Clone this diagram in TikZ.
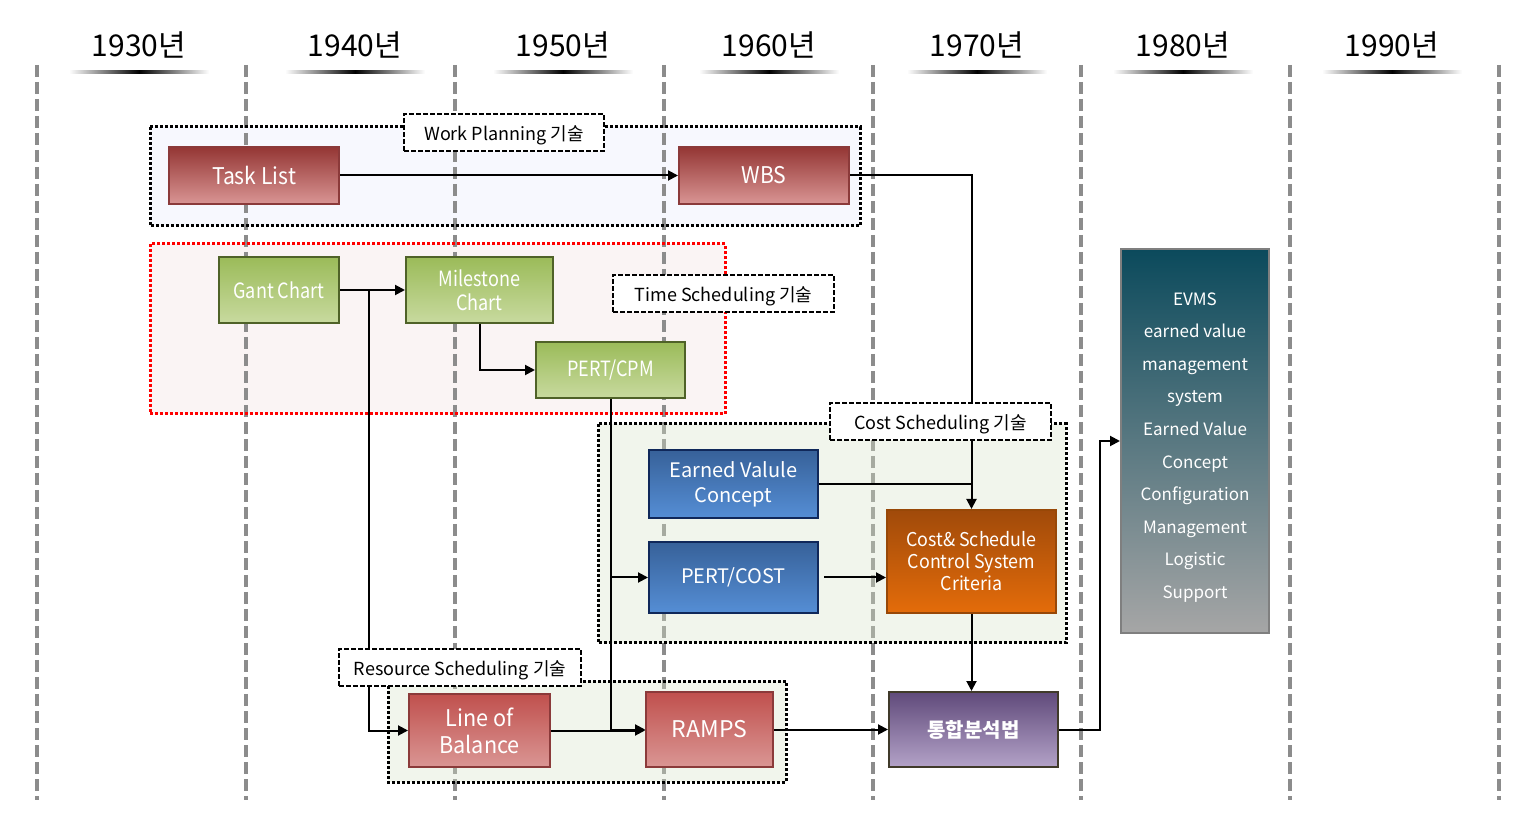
\documentclass[tikz,border=0pt]{standalone}
\usepackage{fontspec}
\setmainfont{Noto Sans CJK KR}
\usetikzlibrary{arrows.meta}
\definecolor{vgray}{HTML}{8C8C8C}
\definecolor{rtop}{HTML}{943634}
\definecolor{rbot}{HTML}{D99594}
\definecolor{rbord}{HTML}{8B3A3A}
\definecolor{r2top}{HTML}{C0504D}
\definecolor{r2bot}{HTML}{DA9694}
\definecolor{gtop}{HTML}{9BBB59}
\definecolor{gbot}{HTML}{C8DA9F}
\definecolor{gbord}{HTML}{4F6228}
\definecolor{btop}{HTML}{376199}
\definecolor{bbot}{HTML}{558ED5}
\definecolor{bbord}{HTML}{10285A}
\definecolor{otop}{HTML}{A04A0A}
\definecolor{obot}{HTML}{E46C0A}
\definecolor{obord}{HTML}{984807}
\definecolor{ptop}{HTML}{604A7B}
\definecolor{pbot}{HTML}{B3A2C7}
\definecolor{pbord}{HTML}{403A2A}
\definecolor{etop}{HTML}{0B4A5C}
\definecolor{ebot}{HTML}{A6A6A6}
\definecolor{ebord}{HTML}{7F7F7F}
\definecolor{wpfill}{HTML}{F7F8FE}
\definecolor{tsfill}{HTML}{FAF4F4}
\definecolor{csfill}{HTML}{D8E2C8}
\begin{document}
\begin{tikzpicture}[x=0.5pt,y=-0.5pt,
  vline/.style={draw=vgray, line width=2pt, dash pattern=on 6pt off 2.5pt},
  year/.style={font=\fontsize{15}{18}\selectfont, text=black},
  sz/.style 2 args={minimum width=#1*0.5pt, minimum height=#2*0.5pt},
  box/.style={draw, line width=1pt, inner sep=0pt, align=center, text=white},
  redbox/.style={box, top color=rtop, bottom color=rbot, draw=rbord},
  red2box/.style={box, top color=r2top, bottom color=r2bot, draw=rbord},
  greenbox/.style={box, top color=gtop, bottom color=gbot, draw=gbord, font=\addfontfeatures{FakeStretch=0.86}\fontsize{10.5}{12}\selectfont},
  bluebox/.style={box, top color=btop, bottom color=bbot, draw=bbord, font=\fontsize{10}{12.5}\selectfont},
  orangebox/.style={box, top color=otop, bottom color=obot, draw=obord, font=\addfontfeatures{FakeStretch=0.94}\fontsize{9.5}{11}\selectfont},
  purplebox/.style={box, top color=ptop, bottom color=pbot, draw=pbord, font=\bfseries\fontsize{10}{12}\selectfont},
  evmsbox/.style={box, top color=etop, bottom color=ebot, draw=ebord},
  lbl/.style={draw=black, fill=white, line width=0.9pt, dash pattern=on 2.5pt off 1pt, inner sep=0pt, text height=10pt, text depth=1.8pt, font=\fontsize{9}{11}\selectfont},
  region/.style={line width=1.5pt, dash pattern=on 1.5pt off 1pt},
  conn/.style={line width=1pt, draw=black},
  arr/.style={conn, -{Triangle[length=5pt,width=5pt]}}
]
\useasboundingbox (0,0) rectangle (1538,828);

% opaque region fills (lines stay visible on top)
\fill[wpfill] (150,127) rectangle (860,226);
\fill[tsfill] (150,244) rectangle (725,414);

% vertical time lines
\foreach \x in {37,246,455,664,873,1081,1290,1499}
  \draw[vline] (\x,65) -- (\x,800);

% year labels
\foreach \x/\t [count=\i] in {139/1930,355/1940,563/1950,769/1960,977/1970,1183/1980,1392/1990}{
  \node[year] (y\i) at (\x,45) {\t 년};
  \shade[left color=white, right color=white, middle color=black] (\x-70,70.5) rectangle (\x+70,73.5);
}

% translucent region fills
\fill[csfill, fill opacity=0.35] (598,424) rectangle (1066,643);
\fill[csfill, fill opacity=0.35] (388,681) rectangle (786,782);

% region borders
\draw[region] (150,127) rectangle (860,226);
\draw[region, draw=red] (150,244) rectangle (725,414);
\draw[region] (598,424) rectangle (1066,643);
\draw[region] (388,681) rectangle (786,782);

% boxes
\node[redbox, sz={170}{57}, font=\addfontfeatures{FakeStretch=0.92}\fontsize{11.5}{13}\selectfont] (tl) at (254,175.5) {Task List};
\node[redbox, sz={170}{57}, font=\addfontfeatures{FakeStretch=0.92}\fontsize{11.5}{13}\selectfont] (wbs) at (764,175.5) {WBS};
\node[greenbox, sz={120}{66}] (gant) at (279,290) {Gant Chart};
\node[greenbox, sz={147}{66}] (ms) at (479.5,290) {Milestone\\Chart};
\node[greenbox, sz={149}{56}] (pc) at (610.5,370) {PERT/CPM};
\node[bluebox, sz={169}{68}] (evc) at (733.5,484) {Earned Valule\\Concept};
\node[bluebox, sz={169}{71}] (pcost) at (733.5,577.5) {PERT/COST};
\node[orangebox, sz={169}{103}] (cs) at (971.5,561.5) {Cost\& Schedule\\Control System\\Criteria};
\node[red2box, sz={141}{73}, font=\addfontfeatures{FakeStretch=0.94}\fontsize{11.5}{13.5}\selectfont] (lob) at (479.5,730.5) {Line of\\Balance};
\node[red2box, sz={127}{75}, font=\fontsize{11.5}{13.5}\selectfont] (ramps) at (709.5,729.5) {RAMPS};
\node[purplebox, sz={169}{75}] (th) at (973.5,729.5) {통합분석법};
\node[evmsbox, sz={148}{384}] (evms) at (1195,441) {};
\node[text=white, align=center, font=\fontsize{8.5}{16.3}\selectfont] (evmst) at (1195,447.5) {EVMS\\earned value\\management\\system\\Earned Value\\Concept\\Configuration\\Management\\Logistic\\Support};

% connectors
\coordinate (j1) at (369,290);
\coordinate (j2) at (pc.south |- pcost.west);
\coordinate (j3) at (1100,729.5);
\draw[arr] (tl.east) -- (wbs.west);
\draw[arr] (wbs.east) -| (cs.north);
\draw[conn] (evc.east) -- (evc.east -| cs.north);
\draw[arr] (gant.east) -- (ms.west);
\draw[arr] (j1) |- (lob.west);
\draw[arr] (ms.south) |- (pc.west);
\draw[arr] (pc.south) |- (ramps.west);
\draw[arr] (j2) -- (pcost.west);
\draw[arr, shorten <=2.5pt] (pcost.east) -- (cs.west |- pcost.east);
\draw[arr] (cs.south) -- (cs.south |- th.north);
\draw[arr] (lob.east) -- (lob.east -| ramps.west);
\draw[arr] (ramps.east) -- (th.west);
\draw[arr] (th.east) -- (j3) |- (evms.west);

% region labels
\node[lbl, sz={200}{37}] (lwp) at (504,132.5) {Work Planning 기술};
\node[lbl, sz={221}{37}] (lts) at (723.5,293.5) {Time Scheduling 기술};
\node[lbl, sz={221}{37}] (lcs) at (940.5,421.5) {Cost Scheduling 기술};
\node[lbl, sz={242}{37}] (lrs) at (460,667.5) {Resource Scheduling 기술};
\end{tikzpicture}
\end{document}
